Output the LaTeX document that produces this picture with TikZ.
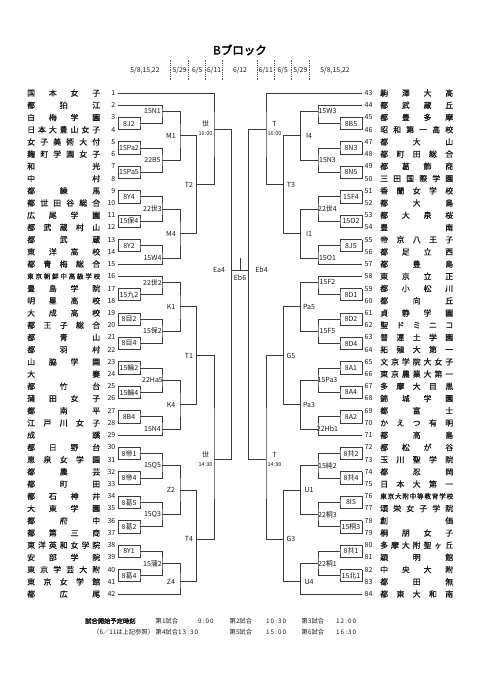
\documentclass[tikz,border=0pt]{standalone}
\usepackage{fontspec}
\setmainfont{Noto Sans CJK JP}[AutoFakeBold=2.5]
\newfontfamily\namefont{Noto Sans CJK JP}[FakeBold=0.8]
\usetikzlibrary{positioning}
\definecolor{wirecol}{HTML}{3C3C3C}
\definecolor{inkcol}{HTML}{1A1A1A}
% team names are spread over a fixed width
\newcommand{\tjust}[1]{\makebox[73pt][s]{\spaceskip=0pt plus 1fil\xspaceskip=0pt plus 1fil\relax #1}}
\newcommand{\smname}{\fontsize{6.6}{7}\selectfont}
\tikzset{
  wire/.style={draw=wirecol, line width=0.8pt},
  tname/.style={font=\namefont\fontsize{7.9}{8}\selectfont, inner sep=0pt, text=inkcol},
  tnum/.style={font=\fontsize{7}{7}\selectfont, inner sep=0pt, text=inkcol},
  mlab/.style={font=\fontsize{7}{7}\selectfont, inner sep=0pt, text=inkcol},
  tlab/.style={font=\fontsize{5.5}{6}\selectfont, inner sep=0pt, text=inkcol},
  hdate/.style={font=\fontsize{6.8}{7}\selectfont, inner sep=0pt, text=inkcol},
  hsep/.style={draw=black!65, line width=0.5pt, dash pattern=on 1pt off 0.8pt},
  foot/.style={font=\fontsize{6.3}{7}\selectfont, inner sep=0pt, anchor=west, text=inkcol},
}

\begin{document}
\begin{tikzpicture}[x=1pt, y=-12.22pt]
  \useasboundingbox (0,-6.6105) rectangle (481,49.036);

  % title and dates
  \node[font=\fontsize{11.5}{12}\selectfont\bfseries, inner sep=0pt] (title) at (240,-2.52) {Bブロック};
  \node[hdate] (dL1) at (145,-0.83) {5/8,15,22};
  \node[hdate] (dL3) at (179.7,-0.83) {5/29};
  \node[hdate] (dL4) at (197.2,-0.83) {6/5};
  \node[hdate] (dL5) at (214.2,-0.83) {6/11};
  \node[hdate] (dC) at (240,-0.83) {6/12};
  \node[hdate] (dR5) at (265.8,-0.83) {6/11};
  \node[hdate] (dR4) at (282.8,-0.83) {6/5};
  \node[hdate] (dR3) at (300.3,-0.83) {5/29};
  \node[hdate] (dR1) at (335,-0.83) {5/8,15,22};
  \foreach \x in {170.7,188.7,205.7,222.7,257.3,274.3,291.3,309.3}
    \draw[hsep] (\x,-1.74) -- (\x,-0.06);

  % left teams
  \foreach \n/\nm in {1/国 本 女 子, 2/都 狛 江, 3/白 梅 学 園, 4/日 本 大 豊 山 女 子,
      5/女 子 美 術 大 付, 6/麹 町 学 園 女 子, 7/和 光, 8/中 村, 9/都 練 馬,
      10/都 世 田 谷 総 合, 11/広 尾 学 園, 12/都 武 蔵 村 山, 13/都 武 蔵,
      14/東 洋 高 校, 15/都 青 梅 総 合, 16/{\smname 東 京 朝 鮮 中 高 級 学 校},
      17/豊 島 学 院, 18/明 星 高 校, 19/大 成 高 校, 20/都 王 子 総 合, 21/都 青 山,
      22/都 羽 村, 23/山 脇 学 園, 24/大 妻, 25/都 竹 台, 26/蒲 田 女 子, 27/都 南 平,
      28/江 戸 川 女 子, 29/成 蹊, 30/都 日 野 台, 31/恵 泉 女 学 園, 32/都 農 芸,
      33/都 町 田, 34/都 石 神 井, 35/大 東 学 園, 36/都 府 中, 37/都 第 三 商,
      38/東 洋 英 和 女 学 院, 39/安 部 学 院, 40/東 京 学 芸 大 附, 41/東 京 女 学 館,
      42/都 広 尾} {
    \node[tname, anchor=west] (nm\n) at (27,\n) {\tjust{\nm}};
    \node[tnum, anchor=east] (no\n) at (115.5,\n) {\n};
    \coordinate (t\n) at (118,\n);
  }

  % right teams
  \foreach \n/\nm in {43/駒 澤 大 高, 44/都 武 蔵 丘, 45/都 豊 多 摩, 46/昭 和 第 一 高 校,
      47/都 大 山, 48/都 町 田 総 合, 49/都 葛 飾 商, 50/三 田 国 際 学 園,
      51/香 蘭 女 学 校, 52/都 大 島, 53/都 大 泉 桜, 54/豊 南, 55/帝 京 八 王 子,
      56/都 足 立 西, 57/都 豊 島, 58/東 京 立 正, 59/都 小 松 川, 60/都 向 丘,
      61/貞 静 学 園, 62/聖 ド ミ ニ コ, 63/普 連 土 学 園, 64/拓 殖 大 第 一,
      65/文 京 学 院 大 女 子, 66/東 京 農 業 大 第 一, 67/多 摩 大 目 黒, 68/錦 城 学 園,
      69/都 富 士, 70/か え つ 有 明, 71/都 高 島, 72/都 松 が 谷, 73/玉 川 聖 学 院,
      74/都 忍 岡, 75/日 本 大 第 一, 76/{\smname 東 京 大 附 中 等 教 育 学 校},
      77/頌 栄 女 子 学 院, 78/創 価, 79/桐 朋 女 子, 80/多 摩 大 附 聖 ヶ 丘,
      81/穎 明 館, 82/中 央 大 附, 83/都 田 無, 84/都 東 大 和 南} {
    \node[tname, anchor=west] (nm\n) at ({380},{\n-42}) {\tjust{\nm}};
    \node[tnum, anchor=west] (no\n) at ({364.5},{\n-42}) {\n};
    \coordinate (u\n) at ({362},{\n-42});
  }

  % first round boxes
  \foreach \a/\b/\lab in {3/4/8J2, 5/6/15Pa2, 7/8/15Pa5, 9/10/8Y4, 11/12/15保4, 13/14/8Y2,
      17/18/15九2, 19/20/8目2, 21/22/8目4, 23/24/15輪2, 25/26/15輪4, 27/28/8B4,
      30/31/8帝1, 32/33/8帝4, 34/35/8葛5, 36/37/8葛2, 38/39/8Y1, 40/41/8葛4} {
    \coordinate (bx\a) at (140,{\a+0.5});
    \draw[wire] (t\a) -| (bx\a) |- (t\b) -- (t\a);
    \node[mlab] (lb\a) at (129,{\a+0.5}) {\lab};
  }
  \foreach \a/\b/\lab in {45/46/8B5, 47/48/8N3, 49/50/8N5, 51/52/15F4, 53/54/15O2, 55/56/8J5,
      59/60/8D1, 61/62/8D2, 63/64/8D4, 65/66/8A1, 67/68/8A4, 69/70/8A2,
      72/73/8共2, 74/75/8共4, 76/77/8I5, 78/79/15桐3, 80/81/8共1, 82/83/15北1} {
    \coordinate (bx\a) at (340,{\a-41.5});
    \draw[wire] (u\a) -| (bx\a) |- (u\b) -- (u\a);
    \node[mlab] (lb\a) at (351,{\a-41.5}) {\lab};
  }

  % second round
  \foreach \id/\y/\a/\b/\lab in {l15N1/2.5/t2/bx3/15N1, l22B5/6.5/bx5/bx7/22B5,
      l22S3/10.5/bx9/bx11/22世3, l15W4/14.5/bx13/t15/15W4, l22S2/16.5/t16/bx17/22世2,
      l15H2/20.5/bx19/bx21/15保2, l22Ha5/24.5/bx23/bx25/22Ha5, l15N4/28.5/bx27/t29/15N4,
      l15Q5/31.5/bx30/bx32/15Q5, l15Q3/35.5/bx34/bx36/15Q3, l15K2/39.5/bx38/bx40/15蒲2} {
    \coordinate (\id) at (162,\y);
    \draw[wire] (\a) -| (\id) |- (\b);
    \node[mlab] (lab\id) at (152.5,\y) {\lab};
  }
  \foreach \id/\y/\a/\b/\lab in {r15W3/2.5/u44/bx45/15W3, r15N3/6.5/bx47/bx49/15N3,
      r22S4/10.5/bx51/bx53/22世4, r15O1/14.5/bx55/u57/15O1, r15F2/16.5/u58/bx59/15F2,
      r15F5/20.5/bx61/bx63/15F5, r15Pa3/24.5/bx65/bx67/15Pa3, r22Hb1/28.5/bx69/u71/22Hb1,
      r15J2/31.5/bx72/bx74/15純2, r22K3/35.5/bx76/bx78/22桐3, r22K1/39.5/bx80/bx82/22桐1} {
    \coordinate (\id) at (318,\y);
    \draw[wire] (\a) -| (\id) |- (\b);
    \node[mlab] (lab\id) at (327.5,\y) {\lab};
  }

  % third round
  \foreach \id/\y/\a/\b/\lab in {lM1/4.5/l15N1/l22B5/M1, lM4/12.5/l22S3/l15W4/M4,
      lK1/18.5/l22S2/l15H2/K1, lK4/26.5/l22Ha5/l15N4/K4, lZ2/33.5/l15Q5/l15Q3/Z2,
      lZ4/41/l15K2/t42/Z4} {
    \coordinate (\id) at (180,\y);
    \draw[wire] (\a) -| (\id) |- (\b);
    \node[mlab] (lab\id) at (171,\y) {\lab};
  }
  \foreach \id/\y/\a/\b/\lab in {rI4/4.5/r15W3/r15N3/I4, rI1/12.5/r22S4/r15O1/I1,
      rPa5/18.5/r15F2/r15F5/Pa5, rPa3/26.5/r15Pa3/r22Hb1/Pa3, rU1/33.5/r15J2/r22K3/U1,
      rU4/41/r22K1/u84/U4} {
    \coordinate (\id) at (300.3,\y);
    \draw[wire] (\a) -| (\id) |- (\b);
    \node[mlab] (lab\id) at (309,\y) {\lab};
  }

  % quarter finals
  \foreach \id/\y/\a/\b/\lab in {lT2/8.5/lM1/lM4/T2, lT1/22.5/lK1/lK4/T1, lT4/37.5/lZ2/lZ4/T4} {
    \coordinate (\id) at (196.7,\y);
    \draw[wire] (\a) -| (\id) |- (\b);
    \node[mlab] (lab\id) at (189,\y) {\lab};
  }
  \foreach \id/\y/\a/\b/\lab in {rT3/8.5/rI4/rI1/T3, rG5/22.5/rPa5/rPa3/G5, rG3/37.5/rU1/rU4/G3} {
    \coordinate (\id) at (283.3,\y);
    \draw[wire] (\a) -| (\id) |- (\b);
    \node[mlab] (lab\id) at (291,\y) {\lab};
  }

  % semi finals
  \coordinate (lS16) at (214,4);
  \coordinate (lS14) at (214,31);
  \draw[wire] (t1) -| (lS16) |- (lT2);
  \draw[wire] (lT1) -| (lS14) |- (lT4);
  \node[mlab] (labS16) at (205.5,3.55) {世};
  \node[tlab] (timS16) at (205.5,4.35) {16:00};
  \node[mlab] (labS14) at (205.5,30.58) {世};
  \node[tlab] (timS14) at (205.5,31.38) {14:30};

  \coordinate (rT16) at (266,4);
  \coordinate (rT14) at (266,31);
  \draw[wire] (u43) -| (rT16) |- (rT3);
  \draw[wire] (rG5) -| (rT14) |- (rG3);
  \node[mlab] (labT16) at (274.5,3.55) {T};
  \node[tlab] (timT16) at (274.5,4.35) {16:00};
  \node[mlab] (labT14) at (274.5,30.58) {T};
  \node[tlab] (timT14) at (274.5,31.38) {14:30};

  % final
  \coordinate (lEa4) at (231.7,15.5);
  \coordinate (rEb4) at (248.3,15.5);
  \coordinate (fin) at (240,15.5);
  \coordinate (fintop) at (240,14.5);
  \draw[wire] (lS16) -| (lEa4) |- (lS14);
  \draw[wire] (rT16) -| (rEb4) |- (rT14);
  \draw[wire] (lEa4) -- (rEb4);
  \draw[wire] (fin) -- (fintop);
  \node[mlab] (labEa4) at (219,15.5) {Ea4};
  \node[mlab] (labEb4) at (261.5,15.5) {Eb4};
  \node[mlab] (labEb6) at (240,16.08) {Eb6};

  % start times
  \node[foot, font=\fontsize{6.3}{7}\selectfont\bfseries] (ft1) at (85,44.21) {試合開始予定時刻};
  \node[foot] (g1) at (155.5,44.21) {第1試合};
  \node[foot] (h1) at (198,44.21) {9\,:\,0\,0};
  \node[foot] (g2) at (229.5,44.21) {第2試合};
  \node[foot] (h2) at (266,44.21) {1\,0\,:\,3\,0};
  \node[foot] (g3) at (301.5,44.21) {第3試合};
  \node[foot] (h3) at (336,44.21) {1\,2\,:\,0\,0};
  \node[foot] (ft2) at (93,45.15) {（6／11は上記参照）};
  \node[foot] (g4) at (155.5,45.15) {第4試合};
  \node[foot] (h4) at (178,45.15) {1\,3\,:\,3\,0};
  \node[foot] (g5) at (229.5,45.15) {第5試合};
  \node[foot] (h5) at (266,45.15) {1\,5\,:\,0\,0};
  \node[foot] (g6) at (301.5,45.15) {第6試合};
  \node[foot] (h6) at (336,45.15) {1\,6\,:\,3\,0};
\end{tikzpicture}
\end{document}
